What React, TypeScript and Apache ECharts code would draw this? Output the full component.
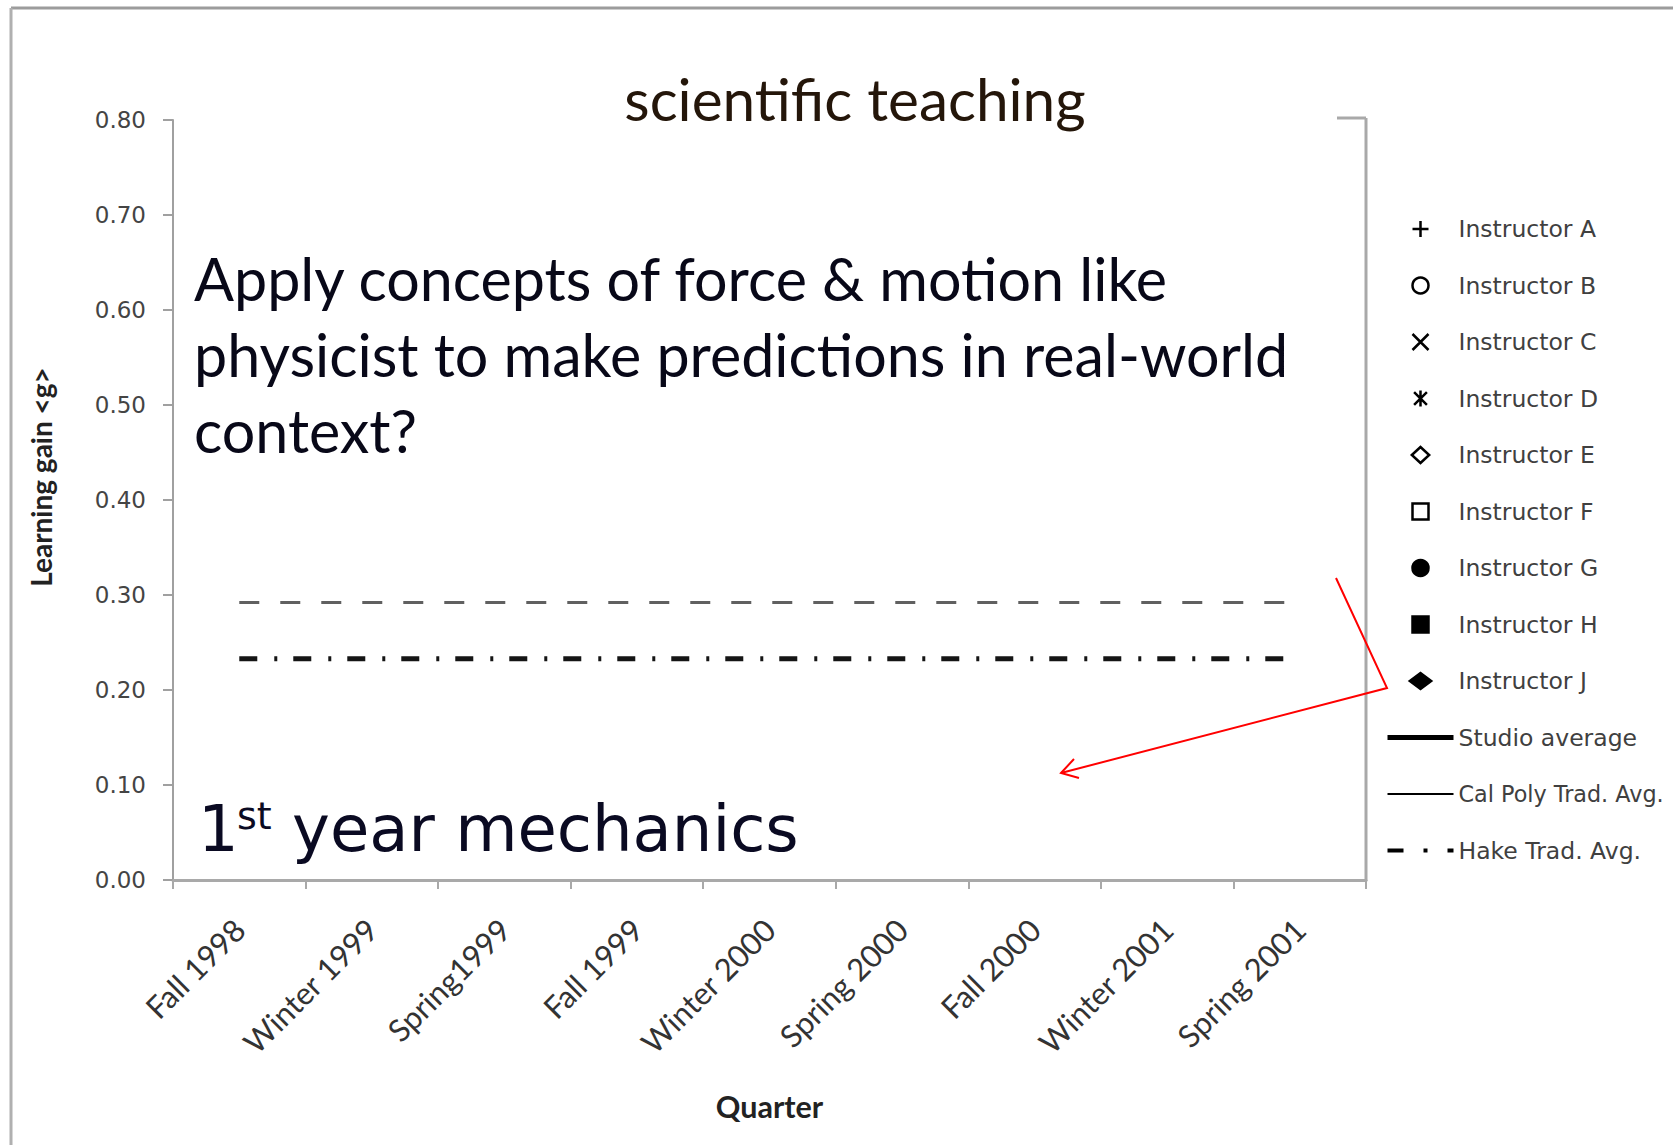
import React, { useEffect, useRef } from "react";
import * as echarts from "echarts";

// ---- data ----
const quarters = [
  "Fall 1998",
  "Winter 1999",
  "Spring1999",
  "Fall 1999",
  "Winter 2000",
  "Spring 2000",
  "Fall 2000",
  "Winter 2001",
  "Spring 2001",
];
const calPolyTradAvg = [0.292, 0.292, 0.292, 0.292, 0.292, 0.292, 0.292, 0.292, 0.292];
const hakeTradAvg = [0.233, 0.233, 0.233, 0.233, 0.233, 0.233, 0.233, 0.233, 0.233];
const studioAverage: number[] = [];
const instructorNames = [
  "Instructor A",
  "Instructor B",
  "Instructor C",
  "Instructor D",
  "Instructor E",
  "Instructor F",
  "Instructor G",
  "Instructor H",
  "Instructor J",
];
const instructorValues: number[][] = [[], [], [], [], [], [], [], [], []];
const yMin = 0;
const yMax = 0.8;
const yInterval = 0.1;

const instructorIcons = [
  { icon: "path://M5,0L5,10M0,5L10,5", fill: "#000" },
  { icon: "circle", fill: "#fff" },
  { icon: "path://M0,0L10,10M10,0L0,10", fill: "#000" },
  { icon: "path://M1,1L9,9M9,1L1,9M5,0L5,10", fill: "#000" },
  { icon: "path://M0,6L6.5,0L13,6L6.5,12Z", fill: "#fff" },
  { icon: "path://M0,0L10,0L10,10L0,10Z", fill: "#fff" },
  { icon: "circle", fill: "#000" },
  { icon: "path://M0,0L10,0L10,10L0,10Z", fill: "#000" },
  { icon: "path://M0,6L8,0L16,6L8,12Z", fill: "#000" },
];

export default function App() {
  const ref = useRef<HTMLDivElement>(null);
  useEffect(() => {
    if (!ref.current) return;
    const chart = echarts.init(ref.current, undefined, { renderer: "svg" });

    const instructorSeries = instructorNames.map((name, i) => ({
      name,
      type: "scatter",
      data: instructorValues[i],
      symbol: instructorIcons[i].icon,
      symbolSize: 16,
      itemStyle: { color: "#000" },
    }));

    const legendData: any[] = instructorNames.map((name, i) => ({
      name,
      icon: instructorIcons[i].icon,
      itemStyle: {
        color: instructorIcons[i].fill,
        borderColor: "#000",
        borderWidth: 2.5,
        opacity: 1,
      },
    }));
    legendData.push(
      {
        name: "Studio average",
        itemStyle: { opacity: 0 },
        lineStyle: { color: "#000", width: 5, type: "solid" },
      },
      {
        name: "Cal Poly Trad. Avg.",
        itemStyle: { opacity: 0 },
        lineStyle: { color: "#000", width: 2, type: "solid" },
        textStyle: { fontSize: 22.3 },
      },
      {
        name: "Hake Trad. Avg.",
        itemStyle: { opacity: 0 },
        lineStyle: { color: "#000", width: 4, type: [16, 20, 4, 20] },
      }
    );

    const option: any = {
      animation: false,
      backgroundColor: "#ffffff",
      grid: { left: 173, right: 307, top: 120, bottom: 265, containLabel: false },
      legend: {
        orient: "vertical",
        left: 1385,
        top: 217,
        padding: 0,
        itemWidth: 66,
        itemHeight: 16,
        itemGap: 32.5,
        selectedMode: false,
        symbolKeepAspect: true,
        textStyle: {
          fontFamily: "DejaVu Sans",
          fontSize: 23.5,
          lineHeight: 24,
          color: "#404040",
        },
        data: legendData,
      },
      xAxis: {
        type: "category",
        data: quarters,
        boundaryGap: true,
        axisLine: { lineStyle: { color: "#a9a9a9", width: 3 } },
        axisTick: {
          show: true,
          length: 9,
          interval: 0,
          alignWithLabel: false,
          lineStyle: { color: "#a9a9a9", width: 2 },
        },
        axisLabel: {
          interval: 0,
          rotate: 45,
          margin: 44,
          fontFamily: "Lato",
          fontSize: 31,
          color: "#333",
        },
        name: "Quarter",
        nameLocation: "middle",
        nameGap: 210,
        nameTextStyle: {
          fontFamily: "Lato",
          fontWeight: "bold",
          fontSize: 30.5,
          color: "#222",
        },
      },
      yAxis: {
        type: "value",
        min: yMin,
        max: yMax,
        interval: yInterval,
        axisLine: { show: true, lineStyle: { color: "#a0a0a0", width: 2 } },
        axisTick: { show: true, length: 10, lineStyle: { color: "#a0a0a0", width: 2 } },
        splitLine: { show: false },
        axisLabel: {
          formatter: (v: number) => v.toFixed(2),
          margin: 27,
          fontFamily: "DejaVu Sans",
          fontSize: 23,
          color: "#444",
        },
      },
      series: [
        ...instructorSeries,
        {
          name: "Studio average",
          type: "line",
          data: studioAverage,
          symbol: "none",
          itemStyle: { color: "#000" },
          lineStyle: { color: "#000", width: 5 },
        },
        {
          name: "Cal Poly Trad. Avg.",
          type: "line",
          data: calPolyTradAvg,
          symbol: "none",
          itemStyle: { color: "#666" },
          lineStyle: { color: "#606060", width: 3, type: [20, 21] },
        },
        {
          name: "Hake Trad. Avg.",
          type: "line",
          data: hakeTradAvg,
          symbol: "none",
          itemStyle: { color: "#111" },
          lineStyle: { color: "#151515", width: 5, type: [18, 17, 3, 16] },
        },
      ],
      graphic: [
        // outer frame
        { type: "line", shape: { x1: 11, y1: 8, x2: 1673, y2: 8 }, style: { stroke: "#9c9c9c", lineWidth: 3 } },
        { type: "line", shape: { x1: 11, y1: 8, x2: 11, y2: 1145 }, style: { stroke: "#b0b0b0", lineWidth: 3 } },
        // plot border (right + visible top piece)
        { type: "line", shape: { x1: 1366, y1: 118, x2: 1366, y2: 881 }, style: { stroke: "#a9a9a9", lineWidth: 3 } },
        { type: "line", shape: { x1: 1337, y1: 118, x2: 1366, y2: 118 }, style: { stroke: "#a9a9a9", lineWidth: 3 } },
        // title
        {
          type: "text",
          x: 855,
          y: 98,
          style: {
            text: "scientific teaching",
            fontFamily: "Lato",
            fontSize: 58.5,
            fill: "#24160a",
            align: "center",
            verticalAlign: "middle",
          },
        },
        // question text
        {
          type: "text",
          x: 194,
          y: 240,
          style: {
            text:
              "Apply concepts of force & motion like\nphysicist to make predictions in real-world\ncontext?",
            fontFamily: "Lato",
            fontSize: 59.2,
            lineHeight: 76.3,
            fill: "#080818",
            align: "left",
            verticalAlign: "top",
          },
        },
        // 1st year mechanics
        {
          type: "text",
          x: 198,
          y: 829,
          style: { text: "1", fontFamily: "DejaVu Sans", fontSize: 64, fill: "#0a0a22", align: "left", verticalAlign: "middle" },
        },
        {
          type: "text",
          x: 237,
          y: 816,
          style: { text: "st", fontFamily: "DejaVu Sans", fontSize: 38, fill: "#0a0a22", align: "left", verticalAlign: "middle" },
        },
        {
          type: "text",
          x: 292,
          y: 829,
          style: { text: "year mechanics", fontFamily: "DejaVu Sans", fontSize: 64, fill: "#0a0a22", align: "left", verticalAlign: "middle" },
        },
        // y axis name
        {
          type: "text",
          x: 41,
          y: 477,
          rotation: Math.PI / 2,
          style: {
            text: "Learning gain <g>",
            fontFamily: "Lato",
            fontWeight: "bold",
            fontSize: 28,
            fill: "#222",
            align: "center",
            verticalAlign: "middle",
          },
        },
        // red annotation arrow
        {
          type: "polyline",
          shape: { points: [[1336, 578], [1387, 688], [1061, 773]] },
          style: { stroke: "#ff0000", lineWidth: 2, fill: "none" },
        },
        {
          type: "polyline",
          shape: { points: [[1074, 759], [1061, 773], [1079, 778]] },
          style: { stroke: "#ff0000", lineWidth: 2, fill: "none" },
        },
      ],
    };

    chart.setOption(option);
    return () => chart.dispose();
  }, []);

  return (
    <div
      ref={ref}
      style={{ position: "fixed", left: 0, top: 0, width: 1673, height: 1145, background: "#fff" }}
    />
  );
}
